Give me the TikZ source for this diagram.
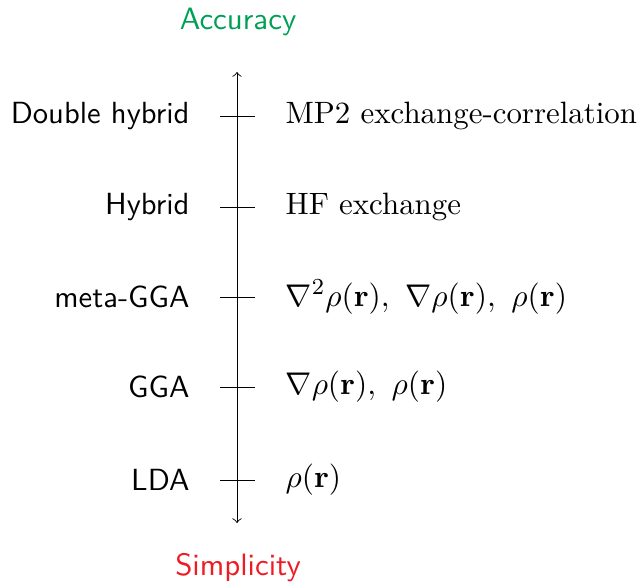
\documentclass[tikz,border=0pt]{standalone}
\usepackage{amsmath}
\usepackage{graphicx}
\definecolor{accgreen}{RGB}{0,160,84}
\definecolor{simred}{RGB}{237,28,36}
\begin{document}
\begin{tikzpicture}[x=0.34pt,y=-0.34pt,
  lefttext/.style={anchor=east,font=\fontsize{10.4}{12}\sffamily,inner sep=0pt},
  righttext/.style={anchor=west,font=\fontsize{10.5}{12}\selectfont,inner sep=0pt},
  mathtext/.style={anchor=west,font=\fontsize{10.95}{13}\selectfont,inner sep=0pt},
  tick/.style={line width=0.3pt},
  endlabel/.style={font=\fontsize{10.5}{12}\sffamily,inner sep=0pt}]
\useasboundingbox (0,0) rectangle (641,583);
\coordinate (top) at (237,72);
\coordinate (bot) at (237,523);
\draw[<->,line width=0.3pt] (top) -- (bot);
\node[endlabel,text=accgreen] (acc) at (238,22) {Accuracy};
\node[endlabel,text=simred] (sim) at (238,568) {Simplicity};
\foreach \y/\l/\n in {116/Double hybrid/a, 207/Hybrid/b, 297/meta-GGA/c, 387/GGA/d, 480/LDA/e}{
  \coordinate (t1\n) at (220,\y);
  \coordinate (t2\n) at (255,\y);
  \draw[tick] (t1\n) -- (t2\n);
  \node[lefttext] (l\n) at (190,\y) {\l};
}
\node[righttext] (ra) at (285,116) {MP2 exchange-correlation};
\node[righttext] (rb) at (285,207) {HF exchange};
\node[mathtext] (rc) at (285,297) {\scalebox{0.975}{$\nabla^2\rho(\mathbf{r}),\ \nabla\rho(\mathbf{r}),\ \rho(\mathbf{r})$}};
\node[mathtext] (rd) at (285,387) {\scalebox{0.975}{$\nabla\rho(\mathbf{r}),\ \rho(\mathbf{r})$}};
\node[mathtext] (re) at (285,480) {\scalebox{0.975}{$\rho(\mathbf{r})$}};
\end{tikzpicture}
\end{document}
